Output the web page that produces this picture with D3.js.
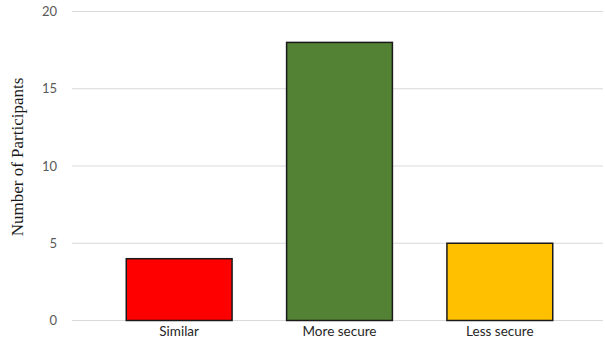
<!DOCTYPE html>
<html>
<head>
<meta charset="utf-8">
<script src="https://cdn.jsdelivr.net/npm/d3@7"></script>
<style>
  body { margin: 0; background: #fff; }
</style>
</head>
<body>
<div id="chart"></div>
<script>
var categories = ["Similar", "More secure", "Less secure"];
var counts = [4, 18, 5];
var barColors = ["#ff0000", "#548235", "#ffc000"];
var yTicks = [0, 5, 10, 15, 20];

var width = 605, height = 342;

var svg = d3.select("#chart")
  .append("svg")
    .attr("width", width)
    .attr("height", height);

// plot area
var y = d3.scaleLinear()
  .domain([0, 20])
  .range([320.5, 11.5]);

var x = d3.scaleBand()
  .domain(categories)
  .range([99, 580])
  .paddingInner(0.34)
  .paddingOuter(0.17);

// gridlines
svg.selectAll(".grid")
  .data(yTicks)
  .enter()
  .append("line")
    .attr("x1", 72)
    .attr("x2", 603)
    .attr("y1", function(d) { return y(d); })
    .attr("y2", function(d) { return y(d); })
    .attr("stroke", "#d9d9d9")
    .attr("stroke-width", 1);

// y tick labels
var yAxis = svg.append("g")
  .attr("transform", "translate(60,0)")
  .call(d3.axisLeft(y).tickValues(yTicks).tickSize(0).tickPadding(3));
yAxis.select(".domain").remove();
yAxis.selectAll("text")
  .style("font-family", "Lato, 'Open Sans', sans-serif")
  .style("font-size", "13px")
  .attr("fill", "#595959");

// bars
svg.selectAll(".bar")
  .data(counts)
  .enter()
  .append("rect")
    .attr("x", function(d, i) { return x(categories[i]); })
    .attr("y", function(d) { return y(d); })
    .attr("width", x.bandwidth())
    .attr("height", function(d) { return y(0) - y(d); })
    .attr("fill", function(d, i) { return barColors[i]; })
    .attr("stroke", "#1a1a1a")
    .attr("stroke-width", 1.5);

// x labels
var xAxis = svg.append("g")
  .attr("transform", "translate(0," + y(0) + ")")
  .call(d3.axisBottom(x).tickSize(0).tickPadding(6));
xAxis.select(".domain").remove();
xAxis.selectAll("text")
  .style("font-family", "Lato, 'Open Sans', sans-serif")
  .style("font-size", "13.5px")
  .attr("fill", "#262626");

// y axis title
svg.append("text")
  .attr("transform", "translate(23,157) rotate(-90)")
  .attr("text-anchor", "middle")
  .style("font-family", "'Liberation Serif', 'DejaVu Serif', serif")
  .style("font-size", "17px")
  .attr("fill", "#1a1a1a")
  .text("Number of Participants");
</script>
</body>
</html>
